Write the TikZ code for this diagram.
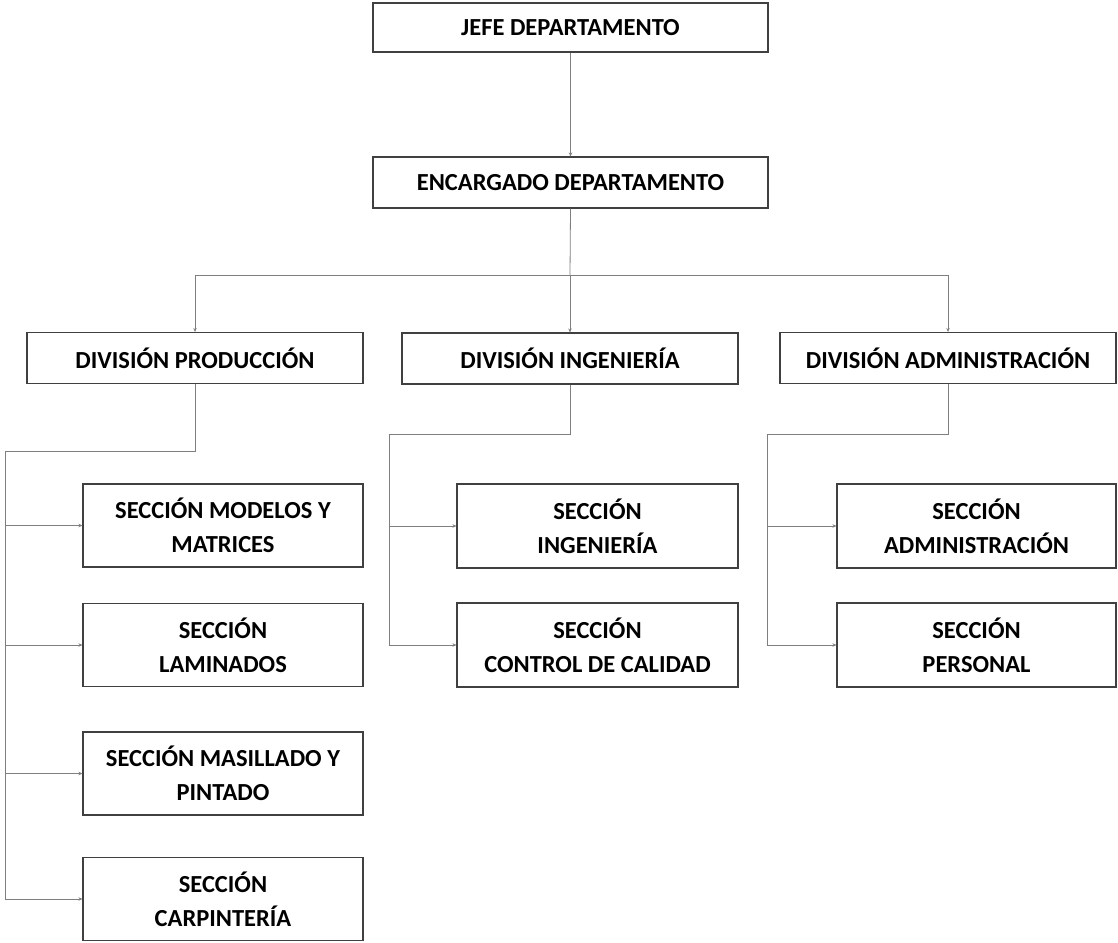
\documentclass[tikz,border=0pt]{standalone}
\usepackage{fontspec}
\setmainfont{Carlito}
\usetikzlibrary{arrows.meta}
\definecolor{boxline}{HTML}{404040}
\definecolor{linkline}{HTML}{7F7F7F}
\begin{document}
\begin{tikzpicture}[x=1pt,y=-1pt,
  box/.style={draw=boxline, line width=1.1pt, fill=white, align=center,
    inner sep=0pt, font=\fontsize{24.5}{34}\selectfont\bfseries},
  link/.style={draw=linkline, line width=0.8pt},
  arr/.style={link, -{Stealth[length=4pt,width=3.5pt]}}]
\useasboundingbox (0,0) rectangle (1118,942);

% top levels
\node[box, minimum width=395pt, minimum height=49pt] (jefe) at (570.5,27.5) {JEFE DEPARTAMENTO};
\node[box, minimum width=395pt, minimum height=51pt] (enc) at (570.5,182.5) {ENCARGADO DEPARTAMENTO};

% divisions
\node[box, minimum width=336pt, minimum height=51pt] (dprod) at (195,358) {DIVISIÓN PRODUCCIÓN};
\node[box, minimum width=336pt, minimum height=51pt] (ding) at (570,358.5) {DIVISIÓN INGENIERÍA};
\node[box, minimum width=336pt, minimum height=51pt] (dadm) at (948,358) {DIVISIÓN ADMINISTRACIÓN};

% production sections
\node[box, minimum width=280pt, minimum height=83pt] (pmod) at (223,525.5) {SECCIÓN MODELOS Y\\MATRICES};
\node[box, minimum width=280pt, minimum height=83pt] (plam) at (223,645) {SECCIÓN\\LAMINADOS};
\node[box, minimum width=280pt, minimum height=83pt] (pmas) at (223,773.5) {SECCIÓN MASILLADO Y\\PINTADO};
\node[box, minimum width=280pt, minimum height=83pt] (pcar) at (223,899) {SECCIÓN\\CARPINTERÍA};

% engineering sections
\node[box, minimum width=281pt, minimum height=84pt] (iing) at (597.5,526) {SECCIÓN\\INGENIERÍA};
\node[box, minimum width=281pt, minimum height=84pt] (ical) at (597.5,645) {SECCIÓN\\CONTROL DE CALIDAD};

% administration sections
\node[box, minimum width=279pt, minimum height=84pt] (aadm) at (976.5,526) {SECCIÓN\\ADMINISTRACIÓN};
\node[box, minimum width=279pt, minimum height=84pt] (aper) at (976.5,645) {SECCIÓN\\PERSONAL};

% bus points
\coordinate (tbus) at (570,275);
\coordinate (pbus) at (5,451);
\coordinate (ibus) at (389,434);
\coordinate (abus) at (767,434);

% top connectors
\draw[arr] (jefe.south) -- (enc.south |- enc.north);
\draw[link] (enc.south) -- (tbus);
\draw[arr] (tbus) -| (dprod.north);
\draw[arr] (tbus) -| (dadm.north);
\draw[arr] (tbus) -- (ding.north);

% production branch
\draw[link] (dprod.south) |- (pbus) -- (pbus |- pcar.west);
\foreach \n in {pmod,plam,pmas,pcar}
  \draw[arr] (pbus |- \n.west) -- (\n.west);

% engineering branch
\draw[link] (ding.south) |- (ibus) -- (ibus |- ical.west);
\foreach \n in {iing,ical}
  \draw[arr] (ibus |- \n.west) -- (\n.west);

% administration branch
\draw[link] (dadm.south) |- (abus) -- (abus |- aper.west);
\foreach \n in {aadm,aper}
  \draw[arr] (abus |- \n.west) -- (\n.west);
\end{tikzpicture}
\end{document}
